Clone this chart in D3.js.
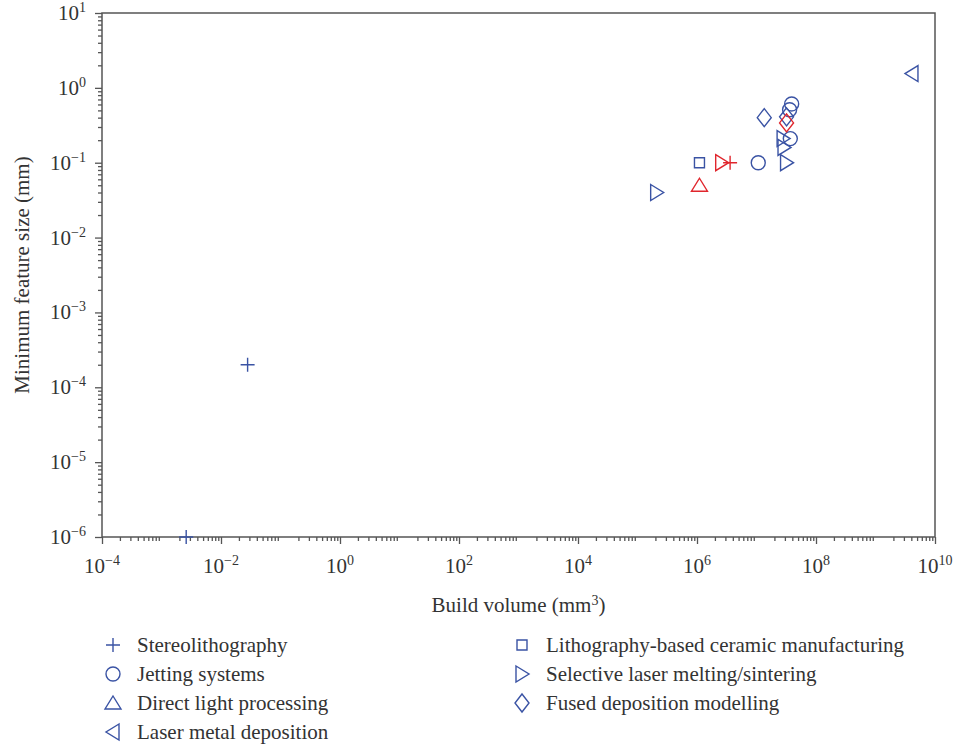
<!DOCTYPE html>
<html>
<head>
<meta charset="utf-8">
<script src="https://cdn.jsdelivr.net/npm/d3@7"></script>
<style>
  body { margin: 0; background: #fff; }
  text { font-family: "Liberation Serif", "DejaVu Serif", serif; fill: #333; }
</style>
</head>
<body>
<div id="chart"></div>
<script>
// series names and their marker shapes
const seriesNames = [
  "Stereolithography",
  "Jetting systems",
  "Direct light processing",
  "Laser metal deposition",
  "Lithography-based ceramic manufacturing",
  "Selective laser melting/sintering",
  "Fused deposition modelling"
];
const seriesShapes = ["plus", "circle", "triangleUp", "triangleLeft", "square", "triangleRight", "diamond"];

// [build volume mm^3, minimum feature size mm]
const stereolithography = [[0.0026, 1e-6], [0.028, 2e-4]];
const jettingSystems = [[1.07e7, 0.1], [3.9e7, 0.61], [3.6e7, 0.51], [3.7e7, 0.21]];
const directLightProcessing = [];
const laserMetalDeposition = [[4.1e9, 1.55]];
const lithographyCeramic = [[1.1e6, 0.1]];
const selectiveLaserMelting = [[2.1e5, 0.04], [2.8e7, 0.21], [2.9e7, 0.16], [3.2e7, 0.1]];
const fusedDeposition = [[1.35e7, 0.4], [3.2e7, 0.41]];
const seriesValues = [stereolithography, jettingSystems, directLightProcessing, laserMetalDeposition,
  lithographyCeramic, selectiveLaserMelting, fusedDeposition];

// points drawn in red (series index + value)
const highlightSeries = [0, 2, 5, 6];
const highlightValues = [[3.6e6, 0.1], [1.1e6, 0.05], [2.6e6, 0.1], [3.2e7, 0.34]];

const xTickExps = [-4, -2, 0, 2, 4, 6, 8, 10];
const yTickExps = [1, 0, -1, -2, -3, -4, -5, -6];

const W = 955, H = 745;
const margin = { left: 102, top: 13, right: 20, bottom: 208 };
const iw = 935 - margin.left, ih = 537 - margin.top;
const blue = "#3a53a4", red = "#e0262d", axisColor = "#555";

const svg = d3.select("#chart").append("svg")
  .attr("width", W).attr("height", H);

const g = svg.append("g").attr("transform", `translate(${margin.left},${margin.top})`);

const x = d3.scaleLog().domain([1e-4, 1e10]).range([0, iw]);
const y = d3.scaleLog().domain([1e-6, 1e1]).range([ih, 0]);

function minors(lo, hi) {
  let out = [];
  for (let e = lo; e < hi; e++) for (let k = 2; k <= 9; k++) out.push(k * Math.pow(10, e));
  return out;
}

// minor ticks
g.append("g").attr("transform", `translate(0,${ih})`)
  .call(d3.axisBottom(x).tickValues(minors(-4, 10)).tickSize(4).tickFormat(""))
  .call(s => s.select(".domain").remove());
g.append("g")
  .call(d3.axisLeft(y).tickValues(minors(-6, 1)).tickSize(4).tickFormat(""))
  .call(s => s.select(".domain").remove());

// major ticks
const xAxis = g.append("g").attr("transform", `translate(0,${ih})`)
  .call(d3.axisBottom(x).tickValues(xTickExps.map(e => Math.pow(10, e))).tickSize(7).tickFormat(""));
const yAxis = g.append("g")
  .call(d3.axisLeft(y).tickValues(yTickExps.map(e => Math.pow(10, e))).tickSize(7).tickFormat(""));

[xAxis, yAxis].forEach(a => a.select(".domain").remove());
g.selectAll(".tick line").attr("stroke", axisColor).attr("stroke-width", 1.3);

// frame
g.append("rect").attr("width", iw).attr("height", ih)
  .attr("fill", "none").attr("stroke", axisColor).attr("stroke-width", 1.5);

function powLabel(sel, e) {
  sel.append("tspan").text("10");
  sel.append("tspan").attr("dy", -8).attr("font-size", 14)
    .text(e < 0 ? "\u2212" + (-e) : String(e));
}

// x tick labels
xTickExps.forEach(e => {
  const t = g.append("text")
    .attr("x", x(Math.pow(10, e)))
    .attr("y", ih + 36)
    .attr("text-anchor", "middle")
    .attr("font-size", 21);
  powLabel(t, e);
});

// y tick labels
yTickExps.forEach(e => {
  const t = g.append("text")
    .attr("x", -16)
    .attr("y", y(Math.pow(10, e)) + 7)
    .attr("text-anchor", "end")
    .attr("font-size", 21);
  powLabel(t, e);
});

// axis titles
const xt = svg.append("text")
  .attr("x", margin.left + iw / 2).attr("y", 612)
  .attr("text-anchor", "middle").attr("font-size", 21);
xt.append("tspan").text("Build volume (mm");
xt.append("tspan").attr("dy", -7).attr("font-size", 14).text("3");
xt.append("tspan").attr("dy", 7).text(")");

svg.append("text")
  .attr("transform", `translate(29,${margin.top + ih / 2}) rotate(-90)`)
  .attr("text-anchor", "middle").attr("font-size", 21)
  .text("Minimum feature size (mm)");

// marker paths
function shapePath(shape) {
  switch (shape) {
    case "plus": return "M-7,0H7M0,-7V7";
    case "circle": return "M7,0A7,7 0 1,1 -7,0A7,7 0 1,1 7,0Z";
    case "square": return "M-5,-5H5V5H-5Z";
    case "triangleUp": return "M0,-7L8,6H-8Z";
    case "triangleRight": return "M-6,-8L7,0L-6,8Z";
    case "triangleLeft": return "M6,-8L-7,0L6,8Z";
    case "diamond": return "M0,-9L7,0L0,9L-7,0Z";
  }
}

const pts = g.append("g");
seriesValues.forEach((vals, i) => {
  pts.selectAll(null).data(vals).enter().append("path")
    .attr("d", shapePath(seriesShapes[i]))
    .attr("transform", d => `translate(${x(d[0])},${y(d[1])})`)
    .attr("fill", "none").attr("stroke", blue).attr("stroke-width", 1.4);
});
pts.selectAll(null).data(highlightValues).enter().append("path")
  .attr("d", (d, i) => shapePath(seriesShapes[highlightSeries[i]]))
  .attr("transform", d => `translate(${x(d[0])},${y(d[1])})`)
  .attr("fill", "none").attr("stroke", red).attr("stroke-width", 1.4);

// legend
const legend = svg.append("g");
seriesNames.forEach((name, i) => {
  const col = i < 4 ? 0 : 1;
  const row = i < 4 ? i : i - 4;
  const lx = col === 0 ? 113 : 522;
  const ly = 645 + row * 29;
  legend.append("path")
    .attr("d", shapePath(seriesShapes[i]))
    .attr("transform", `translate(${lx},${ly})`)
    .attr("fill", "none").attr("stroke", blue).attr("stroke-width", 1.4);
  legend.append("text")
    .attr("x", lx + 24).attr("y", ly + 7)
    .attr("font-size", 21)
    .text(name);
});
</script>
</body>
</html>
